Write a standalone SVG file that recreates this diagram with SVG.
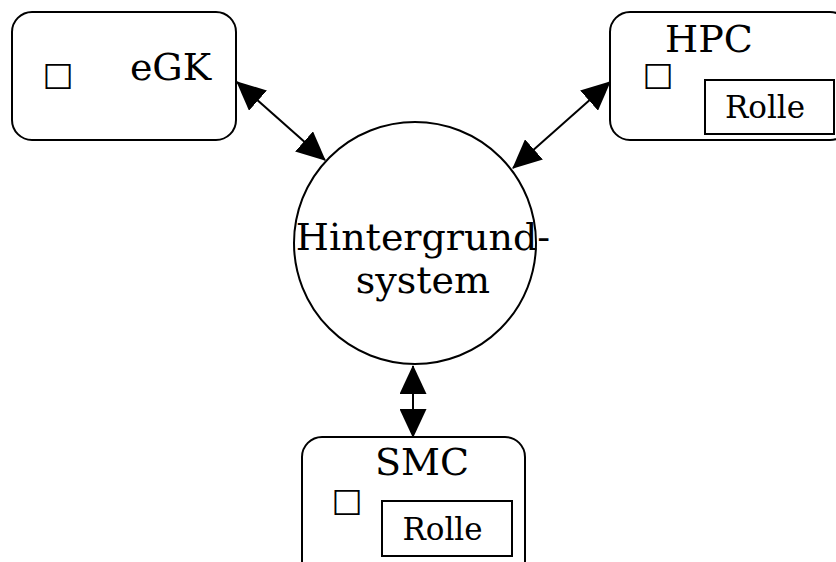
<svg xmlns="http://www.w3.org/2000/svg" width="836" height="562" viewBox="0 0 836 562">
  <style>
    .box { fill: #fff; stroke: #000; stroke-width: 2; }
    .role { fill: #fff; stroke: #000; stroke-width: 2; }
    .edge { stroke: #000; stroke-width: 2; fill: none; marker-start: url(#head); marker-end: url(#head); }
    .label { font-family: "DejaVu Serif", "Liberation Serif", serif; font-size: 38px; fill: #000; }
    .small { font-family: "DejaVu Serif", "Liberation Serif", serif; font-size: 31px; fill: #000; }
    .mark { font-family: "DejaVu Sans", sans-serif; font-size: 33px; fill: #000; }
  </style>
  <defs>
    <marker id="head" markerUnits="userSpaceOnUse" markerWidth="29" markerHeight="27" viewBox="0 0 29 27" refX="28" refY="13.5" orient="auto-start-reverse">
      <path d="M0,0 L29,13.5 L0,27 z" fill="#000"/>
    </marker>
  </defs>
  <rect width="836" height="562" fill="#fff"/>

  <g id="connectors">
    <line class="edge" x1="237" y1="82" x2="325" y2="160"/>
    <line class="edge" x1="610" y1="82" x2="513" y2="168"/>
    <line class="edge" x1="413" y1="366" x2="413" y2="437"/>
  </g>

  <g id="egk">
    <rect class="box" x="12" y="12" width="224" height="128" rx="20" ry="20"/>
    <text class="mark" x="58" y="85" text-anchor="middle">□</text>
    <text class="label" x="170.5" y="80" text-anchor="middle">eGK</text>
  </g>

  <g id="hpc">
    <rect class="box" x="610" y="12" width="240" height="128" rx="20" ry="20"/>
    <text class="label" x="709" y="52" text-anchor="middle">HPC</text>
    <text class="mark" x="658" y="85" text-anchor="middle">□</text>
    <rect class="role" x="705" y="80" width="129" height="54"/>
    <text class="small" x="765" y="118" text-anchor="middle">Rolle</text>
  </g>

  <g id="hintergrundsystem">
    <circle class="box" cx="415" cy="243" r="121"/>
    <text class="label" x="423" y="250" text-anchor="middle">Hintergrund-</text>
    <text class="label" x="423" y="293" text-anchor="middle">system</text>
  </g>

  <g id="smc">
    <rect class="box" x="302" y="437" width="223" height="150" rx="20" ry="20"/>
    <text class="label" x="422" y="475" text-anchor="middle">SMC</text>
    <text class="mark" x="347" y="511" text-anchor="middle">□</text>
    <rect class="role" x="382" y="501" width="130" height="55"/>
    <text class="small" x="442.5" y="540" text-anchor="middle">Rolle</text>
  </g>
</svg>
